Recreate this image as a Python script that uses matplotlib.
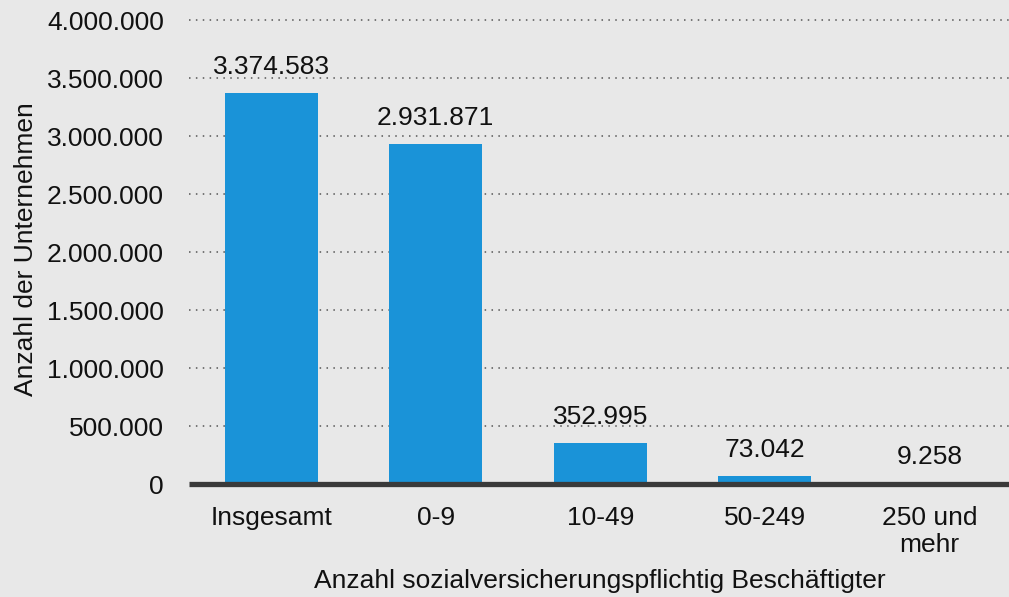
import matplotlib.pyplot as plt
from matplotlib.ticker import FuncFormatter

plt.rcParams["font.family"] = ["Liberation Sans", "DejaVu Sans"]

categories = ["Insgesamt", "0-9", "10-49", "50-249", "250 und\nmehr"]
values = [3374583, 2931871, 352995, 73042, 9258]
y_ticks = [0, 500000, 1000000, 1500000, 2000000, 2500000, 3000000, 3500000, 4000000]

bg = "#e8e8e8"
bar_color = "#1a93d8"
fs = 19

def de_num(v):
    return f"{int(v):,}".replace(",", ".")

W, H = 1009, 597
fig = plt.figure(figsize=(W / 100, H / 100), dpi=100)
fig.patch.set_facecolor(bg)

# axes in pixel units: left 189, bottom 484, top 15
ax = fig.add_axes([189 / W, (H - 484) / H, 820 / W, (484 - 15) / H])
ax.set_facecolor(bg)

x = list(range(len(categories)))
ax.bar(x, values, width=0.565, color=bar_color, zorder=3)

for xi, v in zip(x, values):
    ax.annotate(de_num(v), (xi, v), xytext=(0, 13.5), textcoords="offset points",
                ha="center", va="baseline", fontsize=fs, color="#111111", zorder=4)

ax.set_xlim(-0.5, -0.5 + 820 / 164.5)
ax.set_ylim(0, 4e6 * (484 - 15) / 464)
ax.set_yticks(y_ticks)
ax.yaxis.set_major_formatter(FuncFormatter(lambda v, p: de_num(v)))
ax.set_xticks(x)
ax.set_xticklabels(categories, linespacing=1.15)
ax.tick_params(axis="y", length=0, pad=18, labelsize=fs, labelcolor="#111111")
ax.tick_params(axis="x", length=0, pad=16, labelsize=fs, labelcolor="#111111")

for t in y_ticks[1:]:
    ax.axhline(t, color="#555555", lw=1.1, ls=(0, (1, 3.5)), zorder=1)
ax.axhline(0, color="#3a3a3a", lw=3.8, zorder=5, solid_capstyle="butt", clip_on=False)

for s in ax.spines.values():
    s.set_visible(False)

fig.text(26 / W, (H - 249) / H, "Anzahl der Unternehmen", rotation=90,
         ha="center", va="center", fontsize=fs, color="#111111")
fig.text(600 / W, (H - 581) / H, "Anzahl sozialversicherungspflichtig Beschäftigter",
         ha="center", va="center", fontsize=fs, color="#111111")

fig.savefig("out.png", dpi=100, facecolor=bg)
